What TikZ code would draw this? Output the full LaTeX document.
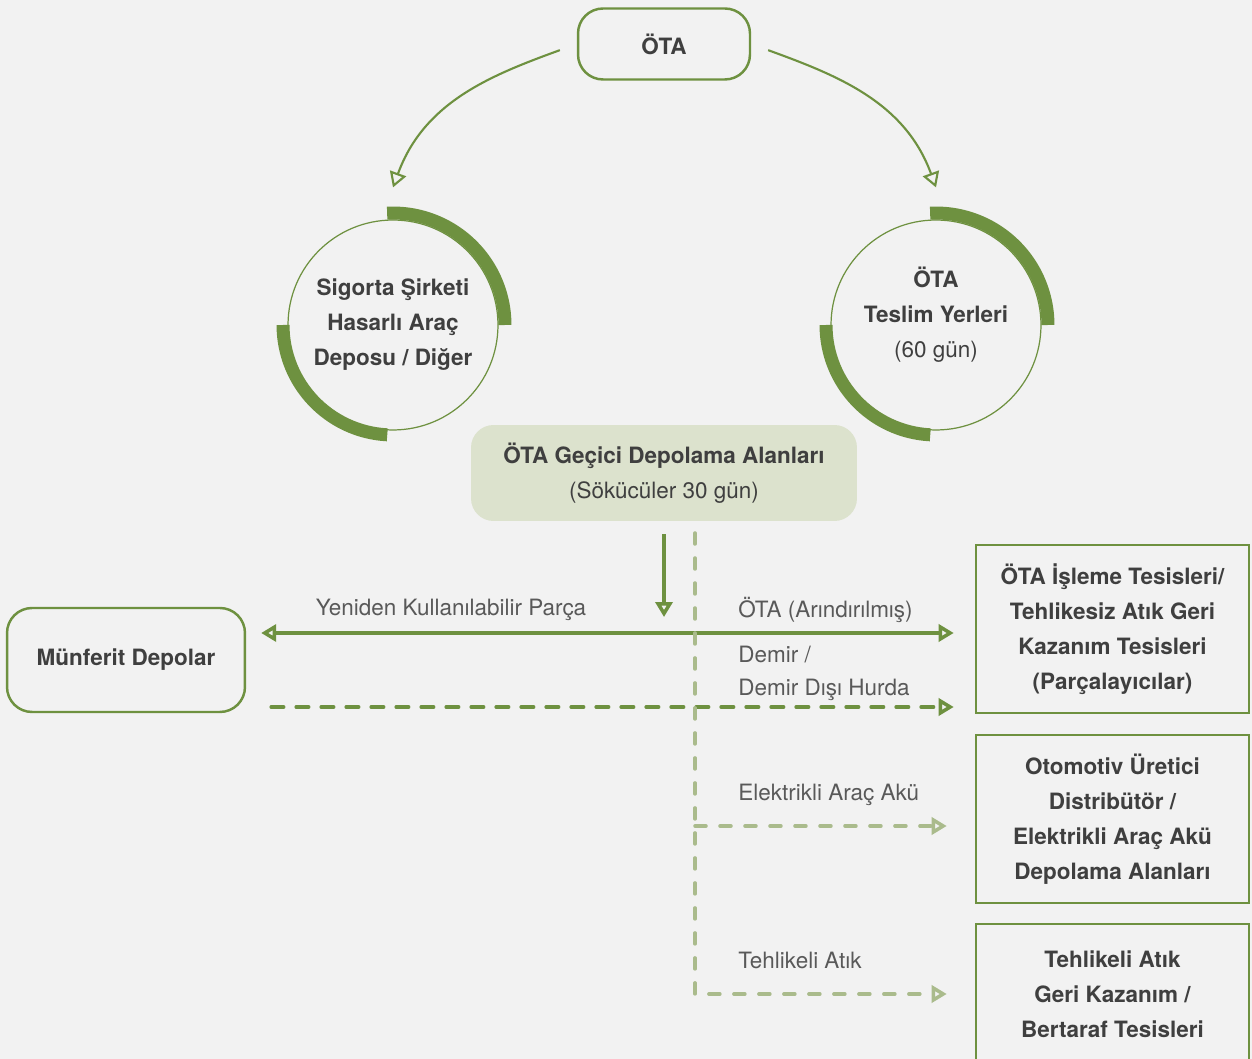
\documentclass[tikz,border=0pt]{standalone}
\usepackage{fontspec}
\setmainfont{TeX Gyre Heros}
\usetikzlibrary{arrows.meta,calc,positioning}
\definecolor{Leaf}{HTML}{6E9140}
\definecolor{Sage}{HTML}{AABB8C}
\definecolor{Mist}{HTML}{DCE2CD}
\definecolor{Paper}{HTML}{F2F2F2}
\definecolor{Ink}{HTML}{3F3F3F}
\definecolor{Grey}{HTML}{595959}

\begin{document}
\begin{tikzpicture}[x=0.02cm,y=0.02cm,
        font=\fontsize{12.8}{19.9}\selectfont,
        hollow/.style={-{Triangle[open,length=0.3cm,width=0.34cm]}},
        rnd/.style={draw=Leaf,line width=1.4pt,fill=Paper,rounded corners=0.5cm,
          font=\fontsize{12.8}{19.9}\selectfont\bfseries,text=Ink,align=center},
        dest/.style={draw=Leaf,line width=1.5pt,fill=Paper,minimum width=5.46cm,
          font=\fontsize{12.8}{19.9}\selectfont\bfseries,text=Ink,align=center},
        ring/.style={circle,draw=Leaf,line width=0.7pt,minimum size=4.2cm},
        band/.style={draw=Leaf,line width=0.26cm},
        txt/.style={font=\fontsize{12.8}{19.9}\selectfont\bfseries,text=Ink,align=center},
        lbl/.style={text=Grey,anchor=west,inner sep=0pt},
        curv/.style={draw=Leaf,line width=1.2pt,hollow},
        flow/.style={draw=Leaf,line width=2pt,hollow},
        scrap/.style={flow,line cap=round,dash pattern=on 0.25cm off 0.25cm},
        sage/.style={draw=Sage,line width=2pt,hollow,line cap=round,dash pattern=on 0.22cm off 0.28cm}]
        \useasboundingbox (0,0) rectangle (1252,1059);
        \fill[Paper] (0,0) rectangle (1252,1059);

        % top source and the two collection points
        \node[rnd,minimum width=3.44cm,minimum height=1.42cm] (ota) at (664,1015) {ÖTA};
        \node[ring] (sig) at (393,734) {};
        \node[txt] at (sig.center) {Sigorta Şirketi\\Hasarlı Araç\\Deposu / Diğer};
        \node[ring] (tes) at (936,734) {};
        \node[txt] at ([yshift=0.2cm]tes.center) {ÖTA\\Teslim Yerleri\\{\mdseries (60 gün)}};
        \foreach \c in {sig,tes} {
          \draw[band] ([shift={(93:2.24cm)}]\c.center) arc[start angle=93,end angle=0,radius=2.24cm];
          \draw[band] ([shift={(180:2.2cm)}]\c.center) arc[start angle=180,end angle=267,radius=2.2cm];
        }
        \draw[curv,shorten <=0.36cm] (ota.west) to[out=200,in=70] ([yshift=0.64cm]sig.north);
        \draw[curv,shorten <=0.36cm] (ota.east) to[out=-20,in=110] ([yshift=0.64cm]tes.north);

        % storage and destinations
        \node[rnd,draw=none,fill=Mist,minimum width=7.72cm,minimum height=1.92cm,
          rounded corners=0.45cm] (merk) at (664,586)
          {ÖTA Geçici Depolama Alanları\\{\mdseries (Sökücüler 30 gün)}};
        \node[rnd,minimum width=4.76cm,minimum height=2.08cm] (munf) at (126,399) {Münferit Depolar};
        \node[dest,minimum height=3.36cm] (isl) at (1112.5,430)
          {ÖTA İşleme Tesisleri/\\Tehlikesiz Atık Geri\\Kazanım Tesisleri\\(Parçalayıcılar)};
        \node[dest,minimum height=3.36cm] (oto) at (1112.5,240)
          {Otomotiv Üretici\\Distribütör /\\Elektrikli Araç Akü\\Depolama Alanları};
        \node[dest,minimum height=2.8cm] (tehl) at (1112.5,65)
          {Tehlikeli Atık\\Geri Kazanım /\\Bertaraf Tesisleri};

        \coordinate (j) at (664,426);
        \coordinate (hurda) at (695,352);
        \coordinate (vt) at (695,526);
        \coordinate (aku) at (695,233);

        \draw[flow,shorten <=0.24cm,shorten >=0.32cm] (merk.south) -- (j);
        \draw[flow,shorten >=0.3cm] (j) -- (munf.east |- j);
        \draw[flow,shorten >=0.42cm] (j) -- (isl.west |- j);
        \draw[scrap,shorten <=0.5cm,shorten >=0.42cm] (munf.east |- hurda) -- (isl.west |- hurda);
        \draw[sage,shorten >=0.56cm] (vt) |- (tehl.west);
        \draw[sage,shorten >=0.56cm] (aku) -- (oto.west |- aku);

        \node[lbl,anchor=center] at (451,449) {Yeniden Kullanılabilir Parça};
        \node[lbl] at (738,449) {ÖTA (Arındırılmış)};
        \node[lbl] at (738,404) {Demir /};
        \node[lbl] at (738,369) {Demir Dışı Hurda};
        \node[lbl] at (738,264) {Elektrikli Araç Akü};
        \node[lbl] at (738,99) {Tehlikeli Atık};
      \end{tikzpicture}
\end{document}
